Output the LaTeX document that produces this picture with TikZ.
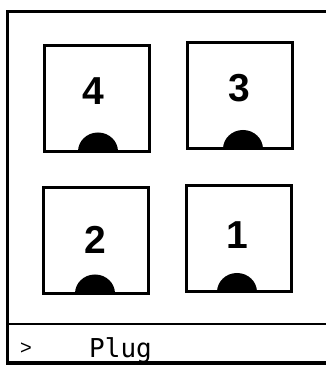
\documentclass[tikz,border=0pt]{standalone}
\usepackage{fontspec}
\setmainfont{Liberation Sans}
\newfontfamily\plugfont{DejaVu Sans Mono}

\begin{document}
\begin{tikzpicture}[
    x=1pt, y=1pt,
    slot/.style={draw, line width=3pt, outer sep=0pt, inner sep=0pt, minimum width=105pt, minimum height=106pt},
    num/.style={font=\bfseries\fontsize{39}{39}\selectfont, inner sep=0pt},
    pin/.style={fill=black}
]
    \useasboundingbox (0,0) rectangle (325,365);

    % Rahmen
    \draw[line width=3pt] (327,353) -- (7,353) -- (7,2) -- (327,2);
    \draw[line width=2.5pt] (7,41) -- (327,41);

    % Steckplaetze
    \node[slot] (s4) at (96.5,266.5) {};
    \node[slot] (s3) at (239.5,269) {};
    \node[slot] (s2) at (96,124.5) {};
    \node[slot] (s1) at (238.5,126) {};

    % Nummern
    \node[num] (n4) at ([shift={(-3,7)}]s4.center) {4};
    \node[num] (n3) at ([shift={(0,8)}]s3.center) {3};
    \node[num] (n2) at ([shift={(-1,1)}]s2.center) {2};
    \node[num] (n1) at ([shift={(-1,4)}]s1.center) {1};

    % Kontakte
    \foreach \s/\dx in {s4/1.5, s3/3.5, s2/-1, s1/-1.5} {
        \fill[pin] ([xshift=\dx pt]\s.south) ++(-20,0) arc[start angle=180, end angle=0, x radius=20, y radius=19] -- cycle;
    }

    % Zeile
    \node[font=\fontsize{20}{20}\selectfont, inner sep=0pt] (cur) at (26,16) {>};
    \node[font=\plugfont\fontsize{26}{26}\selectfont, anchor=base west, inner sep=0pt] (plug) at (89,8) {Plug};
\end{tikzpicture}
\end{document}
